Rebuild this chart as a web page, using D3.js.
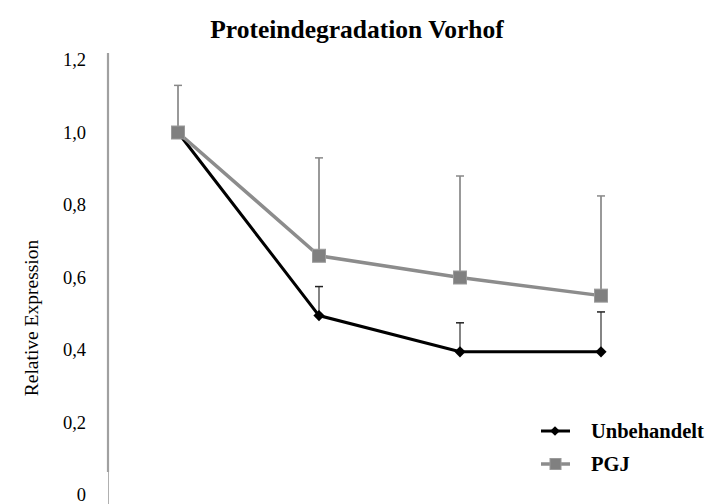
<!DOCTYPE html>
<html>
<head>
<meta charset="utf-8">
<script src="https://cdn.jsdelivr.net/npm/d3@7"></script>
<style>
  html, body { margin: 0; padding: 0; background: #fff; }
  svg { display: block; }
  text { font-family: "Liberation Serif", "Times New Roman", serif; fill: #000; }
</style>
</head>
<body>
<svg id="chart" width="710" height="504"></svg>
<script>
// Time points (unlabelled on the x axis)
const timePoints = [0, 1, 2, 3];

// Relative expression per series, with upper error (SD)
const unbehandeltValues = [1.0, 0.495, 0.395, 0.395];
const unbehandeltErrors = [0.0, 0.08, 0.08, 0.11];
const pgjValues = [1.0, 0.66, 0.60, 0.55];
const pgjErrors = [0.13, 0.27, 0.28, 0.275];

const yTicks = [0, 0.2, 0.4, 0.6, 0.8, 1.0, 1.2];
const seriesNames = ["Unbehandelt", "PGJ"];

const svg = d3.select("#chart");

const x = d3.scalePoint().domain(timePoints).range([178, 601]);
const y = d3.scaleLinear().domain([0, 1.2]).range([495, 60]);

// Title
svg.append("text")
  .attr("x", 357).attr("y", 38)
  .attr("text-anchor", "middle")
  .style("font-weight", "bold").style("font-size", "25.5px")
  .text("Proteindegradation Vorhof");

// Y axis line
svg.append("line")
  .attr("x1", 108).attr("x2", 108)
  .attr("y1", y(1.2) - 7).attr("y2", 472)
  .attr("stroke", "#a0a0a0").attr("stroke-width", 2.2);
svg.append("line")
  .attr("x1", 108.5).attr("x2", 108.5)
  .attr("y1", 472).attr("y2", 504)
  .attr("stroke", "#b0b0b0").attr("stroke-width", 1);

// Y tick labels
const fmt = v => v === 0 ? "0" : d3.format(".1f")(v).replace(".", ",");
svg.append("g").selectAll("text")
  .data(yTicks).join("text")
  .attr("x", 86).attr("y", d => y(d))
  .attr("dy", "0.35em")
  .attr("text-anchor", "end")
  .style("font-size", "18.5px")
  .text(fmt);

// Y axis title
svg.append("text")
  .attr("transform", `translate(38,${318}) rotate(-90)`)
  .attr("text-anchor", "middle")
  .style("font-size", "19.5px")
  .text("Relative Expression");

const line = d3.line().x((d, i) => x(timePoints[i])).y(d => y(d));

function drawErrors(values, errors, stemColor, capColor, width) {
  const g = svg.append("g");
  values.forEach((v, i) => {
    if (!errors[i]) return;
    const cx = x(timePoints[i]);
    g.append("line")
      .attr("x1", cx).attr("x2", cx)
      .attr("y1", y(v)).attr("y2", y(v + errors[i]))
      .attr("stroke", stemColor).attr("stroke-width", width);
    g.append("line")
      .attr("x1", cx - 4).attr("x2", cx + 4)
      .attr("y1", y(v + errors[i])).attr("y2", y(v + errors[i]))
      .attr("stroke", capColor).attr("stroke-width", 1.5);
  });
}

// Unbehandelt series
drawErrors(unbehandeltValues, unbehandeltErrors, "#666", "#222", 1.6);
svg.append("path")
  .datum(unbehandeltValues)
  .attr("d", line)
  .attr("fill", "none").attr("stroke", "#000").attr("stroke-width", 3);
const diamond = d3.symbol().type(d3.symbolDiamond2).size(80);
svg.append("g").selectAll("path")
  .data(unbehandeltValues).join("path")
  .attr("transform", (d, i) => `translate(${x(timePoints[i])},${y(d)})`)
  .attr("d", diamond)
  .attr("fill", "#000");

// PGJ series
drawErrors(pgjValues, pgjErrors, "#999", "#888", 2);
svg.append("path")
  .datum(pgjValues)
  .attr("d", line)
  .attr("fill", "none").attr("stroke", "#8c8c8c").attr("stroke-width", 3.5);
svg.append("g").selectAll("rect")
  .data(pgjValues).join("rect")
  .attr("x", (d, i) => x(timePoints[i]) - 6.5)
  .attr("y", d => y(d) - 6.5)
  .attr("width", 13).attr("height", 13)
  .attr("fill", "#808080").attr("stroke", "#9a9a9a").attr("stroke-width", 1);

// Legend
const legendY = [431, 464];
const lg = svg.append("g");
seriesNames.forEach((name, i) => {
  const ly = legendY[i];
  lg.append("line")
    .attr("x1", 541).attr("x2", 570).attr("y1", ly).attr("y2", ly)
    .attr("stroke", i === 0 ? "#000" : "#8c8c8c").attr("stroke-width", i === 0 ? 3 : 3.5);
  if (i === 0) {
    lg.append("path").attr("transform", `translate(555,${ly})`)
      .attr("d", d3.symbol().type(d3.symbolDiamond2).size(60)).attr("fill", "#000");
  } else {
    lg.append("rect").attr("x", 550).attr("y", ly - 5.5).attr("width", 11).attr("height", 11)
      .attr("fill", "#808080").attr("stroke", "#9a9a9a");
  }
  lg.append("text")
    .attr("x", 591).attr("y", ly).attr("dy", "0.32em")
    .style("font-weight", "bold").style("font-size", "20.5px")
    .text(name);
});
</script>
</body>
</html>
